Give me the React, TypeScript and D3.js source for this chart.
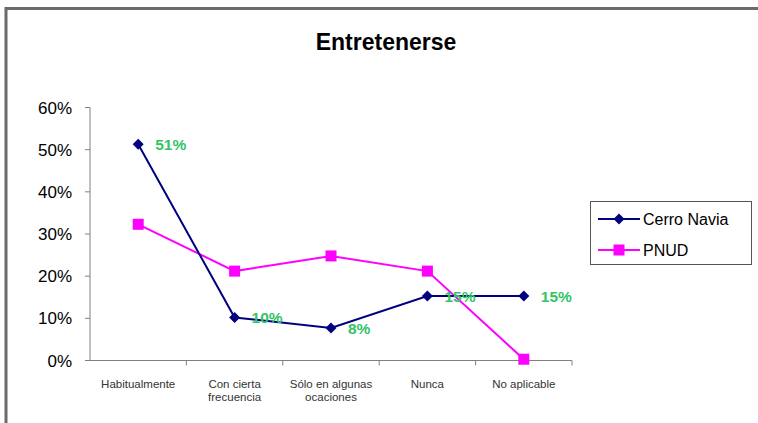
import React from "react";
import * as d3 from "d3";

const categories = ["Habitualmente", "Con cierta\nfrecuencia", "Sólo en algunas\nocaciones", "Nunca", "No aplicable"];
const cerroNavia = [51.3, 10.2, 7.7, 15.3, 15.3];
const cerroLabels = ["51%", "10%", "8%", "15%", "15%"];
const pnud = [32.3, 21.2, 24.8, 21.2, 0.3];
const yTicks = [0, 10, 20, 30, 40, 50, 60];
const title = "Entretenerse";
const seriesNames = ["Cerro Navia", "PNUD"];

const W = 758, H = 423;
const font = "Liberation Sans, Arial, sans-serif";

export default function App() {
  const x = d3.scaleBand<string>().domain(categories).range([90, 572]);
  const y = d3.scaleLinear().domain([0, 60]).range([360.5, 107.5]);
  const cx = (c: string) => (x(c) as number) + x.bandwidth() / 2;
  const line = d3.line<number>().x((_, i) => cx(categories[i])).y((d) => y(d));
  const diamond = "M0,-5.5L5.5,0L0,5.5L-5.5,0Z";
  const navy = "#000080";
  const mag = "#FF00FF";
  const green = "#33C466";
  return (
    <svg width={W} height={H} style={{ position: "absolute", left: 0, top: 0, background: "#fff" }} fontFamily={font}>
      <rect x={0} y={0} width={W} height={H} fill="#fff" />
      <path d={`M6,${H} L6,8.5 L${W},8.5`} fill="none" stroke="#6b6b6b" strokeWidth={3} />
      <text x={386} y={50} textAnchor="middle" fontSize={23} fontWeight="bold" fill="#000">{title}</text>
      {/* y axis */}
      <line x1={90} x2={90} y1={y(60)} y2={y(0)} stroke="#808080" strokeWidth={1} />
      {yTicks.map((t) => (
        <g key={t}>
          <line x1={85} x2={90} y1={y(t)} y2={y(t)} stroke="#808080" />
          <text x={72} y={y(t) + 6} textAnchor="end" fontSize={17} fill="#000">{t}%</text>
        </g>
      ))}
      {/* x axis */}
      <line x1={90} x2={572} y1={y(0)} y2={y(0)} stroke="#808080" />
      {categories.map((c, i) => (
        <line key={"t" + i} x1={(x(c) as number) + x.bandwidth()} x2={(x(c) as number) + x.bandwidth()} y1={y(0)} y2={y(0) + 5} stroke="#808080" />
      ))}
      {categories.map((c, i) => (
        <text key={"c" + i} x={cx(c)} y={388} textAnchor="middle" fontSize={11.5} fill="#333">
          {c.split("\n").map((s, j) => (
            <tspan key={j} x={cx(c)} dy={j === 0 ? 0 : 13}>{s}</tspan>
          ))}
        </text>
      ))}
      {/* PNUD */}
      <path d={line(pnud) || ""} fill="none" stroke={mag} strokeWidth={2} />
      {pnud.map((v, i) => (
        <rect key={"p" + i} x={cx(categories[i]) - 5.5} y={y(v) - 5.5} width={11} height={11} fill={mag} />
      ))}
      {/* Cerro Navia */}
      <path d={line(cerroNavia) || ""} fill="none" stroke={navy} strokeWidth={2} />
      {cerroNavia.map((v, i) => (
        <path key={"d" + i} d={diamond} transform={`translate(${cx(categories[i])},${y(v)})`} fill={navy} />
      ))}
      {cerroNavia.map((v, i) => (
        <text key={"l" + i} x={cx(categories[i]) + 17} y={y(v) + 6} fontSize={15.5} fontWeight="bold" fill={green}>{cerroLabels[i]}</text>
      ))}
      {/* legend */}
      <rect x={590.5} y={201.5} width={161} height={63} fill="#fff" stroke="#555" strokeWidth={1} />
      <line x1={598} x2={640} y1={219} y2={219} stroke={navy} strokeWidth={2} />
      <path d={diamond} transform="translate(619,219)" fill={navy} />
      <text x={643} y={225} fontSize={16} fill="#000">{seriesNames[0]}</text>
      <line x1={598} x2={640} y1={250} y2={250} stroke={mag} strokeWidth={2} />
      <rect x={613.5} y={244.5} width={11} height={11} fill={mag} />
      <text x={643} y={256} fontSize={16} fill="#000">{seriesNames[1]}</text>
    </svg>
  );
}
